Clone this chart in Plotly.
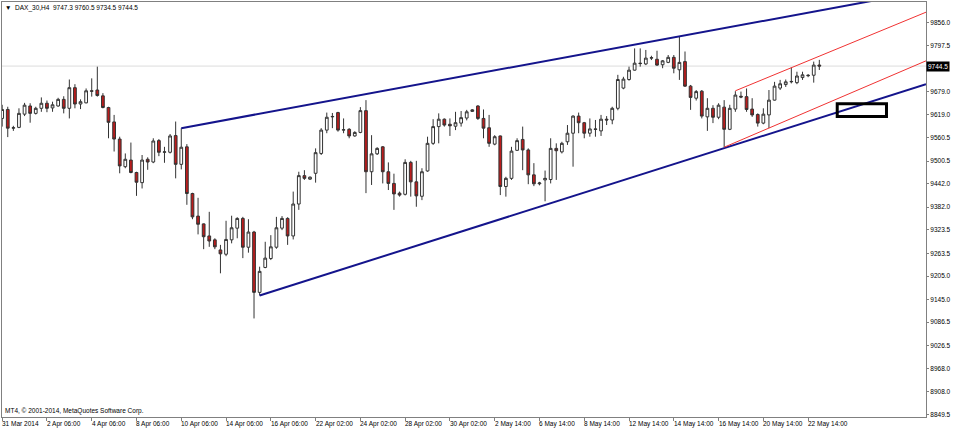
import plotly.graph_objects as go

# ---------------- data ----------------
symbol = "DAX_30,H4"

bar_open = [9610, 9633, 9585, 9587, 9621, 9642, 9623, 9636, 9649, 9637,
            9642, 9659, 9636, 9689, 9647, 9650, 9681, 9683, 9668, 9638,
            9601, 9557, 9486, 9503, 9471, 9445, 9505, 9498, 9553, 9523,
            9523, 9566, 9492, 9537, 9417, 9359, 9339, 9308, 9298, 9272,
            9261, 9298, 9328, 9353, 9279, 9318, 9163, 9227, 9250, 9279,
            9328, 9353, 9308, 9390, 9463, 9454, 9469, 9520, 9580, 9614,
            9625, 9580, 9582, 9565, 9574, 9630, 9473, 9519, 9537, 9473,
            9443, 9418, 9415, 9497, 9447, 9410, 9475, 9546, 9589, 9608,
            9595, 9590, 9598, 9611, 9628, 9642, 9610, 9586, 9544, 9565,
            9435, 9456, 9528, 9556, 9529, 9465, 9442, 9452, 9453, 9533,
            9524, 9550, 9572, 9616, 9599, 9572, 9583, 9578, 9608, 9606,
            9636, 9688, 9710, 9734, 9752, 9750, 9765, 9762, 9748, 9754,
            9767, 9735, 9756, 9693, 9662, 9680, 9614, 9636, 9613, 9639,
            9582, 9634, 9667, 9666, 9634, 9620, 9598, 9619, 9657, 9688,
            9697, 9704, 9702, 9715, 9721, 9721, 9747.3]
bar_high = [9645, 9640, 9591, 9636, 9650, 9649, 9640, 9664, 9656, 9653,
            9663, 9667, 9710, 9698, 9659, 9687, 9713, 9743, 9675, 9640,
            9619, 9563, 9520, 9548, 9473, 9516, 9510, 9559, 9557, 9537,
            9570, 9602, 9585, 9544, 9419, 9406, 9340, 9370, 9302, 9285,
            9347, 9360, 9356, 9357, 9351, 9321, 9229, 9293, 9310, 9357,
            9359, 9356, 9422, 9473, 9477, 9461, 9533, 9585, 9625, 9624,
            9627, 9610, 9585, 9577, 9639, 9657, 9567, 9536, 9539, 9497,
            9468, 9422, 9505, 9501, 9501, 9482, 9563, 9608, 9623, 9610,
            9610, 9627, 9629, 9632, 9634, 9644, 9633, 9619, 9567, 9566,
            9460, 9537, 9559, 9589, 9533, 9495, 9447, 9476, 9559, 9546,
            9550, 9593, 9618, 9625, 9601, 9610, 9606, 9619, 9616, 9640,
            9722, 9717, 9743, 9790, 9790, 9786, 9771, 9784, 9760, 9773,
            9773, 9820, 9782, 9696, 9683, 9683, 9662, 9644, 9649, 9657,
            9645, 9680, 9679, 9687, 9662, 9623, 9636, 9683, 9704, 9709,
            9710, 9741, 9730, 9730, 9724, 9756, 9760.5]
bar_low = [9589, 9562, 9578, 9585, 9616, 9599, 9620, 9627, 9626, 9627,
           9640, 9623, 9610, 9636, 9634, 9649, 9666, 9666, 9636, 9559,
           9525, 9469, 9482, 9469, 9411, 9430, 9478, 9495, 9513, 9496,
           9520, 9456, 9479, 9388, 9351, 9312, 9274, 9280, 9274, 9212,
           9256, 9289, 9302, 9251, 9265, 9096, 9155, 9225, 9246, 9275,
           9323, 9285, 9299, 9375, 9452, 9452, 9445, 9516, 9572, 9585,
           9576, 9572, 9559, 9563, 9572, 9418, 9439, 9516, 9443, 9426,
           9375, 9409, 9412, 9409, 9383, 9400, 9473, 9542, 9546, 9589,
           9565, 9580, 9589, 9605, 9627, 9606, 9559, 9537, 9541, 9413,
           9409, 9452, 9527, 9477, 9441, 9436, 9438, 9397, 9443, 9452,
           9520, 9542, 9486, 9572, 9559, 9563, 9563, 9565, 9593, 9595,
           9631, 9685, 9707, 9733, 9743, 9747, 9760, 9745, 9739, 9752,
           9726, 9709, 9691, 9632, 9656, 9610, 9578, 9598, 9608, 9536,
           9580, 9627, 9662, 9627, 9614, 9589, 9595, 9585, 9656, 9683,
           9691, 9700, 9698, 9709, 9716, 9702, 9734.5]
bar_close = [9633, 9585, 9586, 9623, 9644, 9623, 9636, 9649, 9636, 9645,
             9659, 9636, 9689, 9647, 9653, 9681, 9680, 9669, 9638, 9600,
             9557, 9488, 9505, 9471, 9446, 9503, 9498, 9552, 9523, 9524,
             9565, 9492, 9536, 9417, 9357, 9338, 9306, 9295, 9280, 9262,
             9299, 9329, 9353, 9279, 9318, 9163, 9217, 9251, 9280, 9329,
             9353, 9308, 9390, 9463, 9456, 9459, 9522, 9580, 9613, 9615,
             9580, 9581, 9565, 9574, 9630, 9473, 9519, 9533, 9473, 9443,
             9416, 9413, 9497, 9447, 9411, 9473, 9546, 9589, 9608, 9593,
             9591, 9599, 9612, 9627, 9632, 9610, 9585, 9546, 9563, 9435,
             9456, 9526, 9553, 9529, 9465, 9442, 9444, 9456, 9533, 9527,
             9546, 9572, 9616, 9599, 9572, 9583, 9582, 9608, 9606, 9636,
             9710, 9711, 9734, 9752, 9751, 9765, 9766, 9747, 9758, 9767,
             9739, 9754, 9693, 9664, 9679, 9616, 9636, 9613, 9644, 9582,
             9636, 9670, 9665, 9633, 9619, 9598, 9621, 9657, 9693, 9699,
             9704, 9705, 9719, 9722, 9720, 9747, 9744.5]

x_tick_labels = ["31 Mar 2014", "2 Apr 06:00", "4 Apr 06:00", "8 Apr 06:00",
                 "10 Apr 06:00", "14 Apr 06:00", "16 Apr 06:00", "22 Apr 02:00",
                 "24 Apr 02:00", "28 Apr 02:00", "30 Apr 02:00", "2 May 14:00",
                 "6 May 14:00", "8 May 14:00", "12 May 14:00", "14 May 14:00",
                 "16 May 14:00", "20 May 14:00", "22 May 14:00"]
bars_per_label = 8

y_tick_values = [9856.0, 9797.5, 9679.0, 9619.0, 9560.5, 9500.5, 9442.0,
                 9382.0, 9323.5, 9263.5, 9205.0, 9145.0, 9086.5, 9026.5,
                 8968.0, 8908.0, 8849.5]

# hand-drawn objects (bar index, price)
upper_blue_bar = [32, 165.0]
upper_blue_price = [9585, 9937.5]
lower_blue_bar = [46, 165.06]
lower_blue_price = [9155, 9698]
upper_red_bar = [131, 165.06]
upper_red_price = [9681, 9883]
lower_red_bar = [129, 165.06]
lower_red_price = [9536, 9758]
box_bar = [149.2, 158.0]
box_price = [9615, 9647.5]

x_range = [-0.03, 165.06]
y_range = [8842.7, 9909.2]

# ---------------- figure ----------------
FONT = "Liberation Sans, Arial, sans-serif"
bars = list(range(len(bar_close)))

fig = go.Figure()
fig.add_trace(go.Candlestick(
    x=bars, open=bar_open, high=bar_high, low=bar_low, close=bar_close,
    increasing=dict(fillcolor="white", line=dict(color="#333333", width=1)),
    decreasing=dict(fillcolor="#bb1c1c", line=dict(color="#333333", width=1)),
    whiskerwidth=0, showlegend=False, hoverinfo="skip"))

for bx, py, col, w in [(upper_blue_bar, upper_blue_price, "#14148c", 2),
                       (lower_blue_bar, lower_blue_price, "#14148c", 2),
                       (upper_red_bar, upper_red_price, "#f03232", 1),
                       (lower_red_bar, lower_red_price, "#f03232", 1)]:
    fig.add_trace(go.Scatter(x=bx, y=py, mode="lines",
                             line=dict(color=col, width=w),
                             showlegend=False, hoverinfo="skip"))

shapes = [
    dict(type="line", xref="paper", x0=0, x1=1, yref="y",
         y0=bar_close[-1], y1=bar_close[-1],
         line=dict(color="#dcdcdc", width=1), layer="below"),
    dict(type="rect", xref="x", yref="y", x0=box_bar[0], x1=box_bar[1],
         y0=box_price[0], y1=box_price[1],
         line=dict(color="black", width=3), fillcolor="rgba(0,0,0,0)"),
]

annotations = []
title_txt = "▼  %s  %.1f %.1f %.1f %.1f" % (symbol, bar_open[-1], bar_high[-1],
                                           bar_low[-1], bar_close[-1])
annotations.append(dict(text=title_txt, xref="paper", yref="paper", x=0, y=1,
                        xanchor="left", yanchor="top", xshift=1, yshift=0,
                        showarrow=False, font=dict(family=FONT, size=6.5, color="black")))
annotations.append(dict(text="MT4, © 2001-2014, MetaQuotes Software Corp.",
                        xref="paper", yref="paper", x=0, y=0,
                        xanchor="left", yanchor="bottom", xshift=1, yshift=0,
                        showarrow=False, font=dict(family=FONT, size=6.5, color="black")))
tick_bars = [k * bars_per_label for k in range(len(x_tick_labels))]
for tb, lab in zip(tick_bars, x_tick_labels):
    annotations.append(dict(text=lab, xref="x", yref="paper", x=tb, y=0,
                            xanchor="left", yanchor="top", xshift=-2, yshift=-1,
                            showarrow=False,
                            font=dict(family=FONT, size=6.5, color="black")))
annotations.append(dict(text="%.1f" % bar_close[-1], xref="paper", yref="y",
                        x=1, y=bar_close[-1], xanchor="left", yanchor="middle",
                        xshift=0, showarrow=False, bgcolor="black", borderpad=1,
                        font=dict(family=FONT, size=6.5, color="white")))

fig.update_layout(
    width=953, height=430,
    margin=dict(l=2, r=27, t=2, b=13, pad=0),
    paper_bgcolor="white", plot_bgcolor="white",
    shapes=shapes, annotations=annotations,
    showlegend=False,
    xaxis=dict(range=x_range, rangeslider=dict(visible=False),
               showgrid=False, zeroline=False,
               showline=True, linecolor="#808080", linewidth=1, mirror=True,
               tickmode="array", tickvals=tick_bars, showticklabels=False,
               ticks="outside", ticklen=3, tickcolor="#808080"),
    yaxis=dict(range=y_range, side="right",
               showgrid=False, zeroline=False,
               showline=True, linecolor="#808080", linewidth=1, mirror=True,
               tickmode="array", tickvals=y_tick_values,
               ticktext=["%.1f" % v for v in y_tick_values],
               ticks="outside", ticklen=2, tickcolor="#808080",
               tickfont=dict(family=FONT, size=6.5, color="black")),
)

fig.write_html("out.html",
               config={"displayModeBar": False, "staticPlot": True},
               post_script="document.body.style.margin='0px';"
                           "document.body.style.overflow='hidden';")
